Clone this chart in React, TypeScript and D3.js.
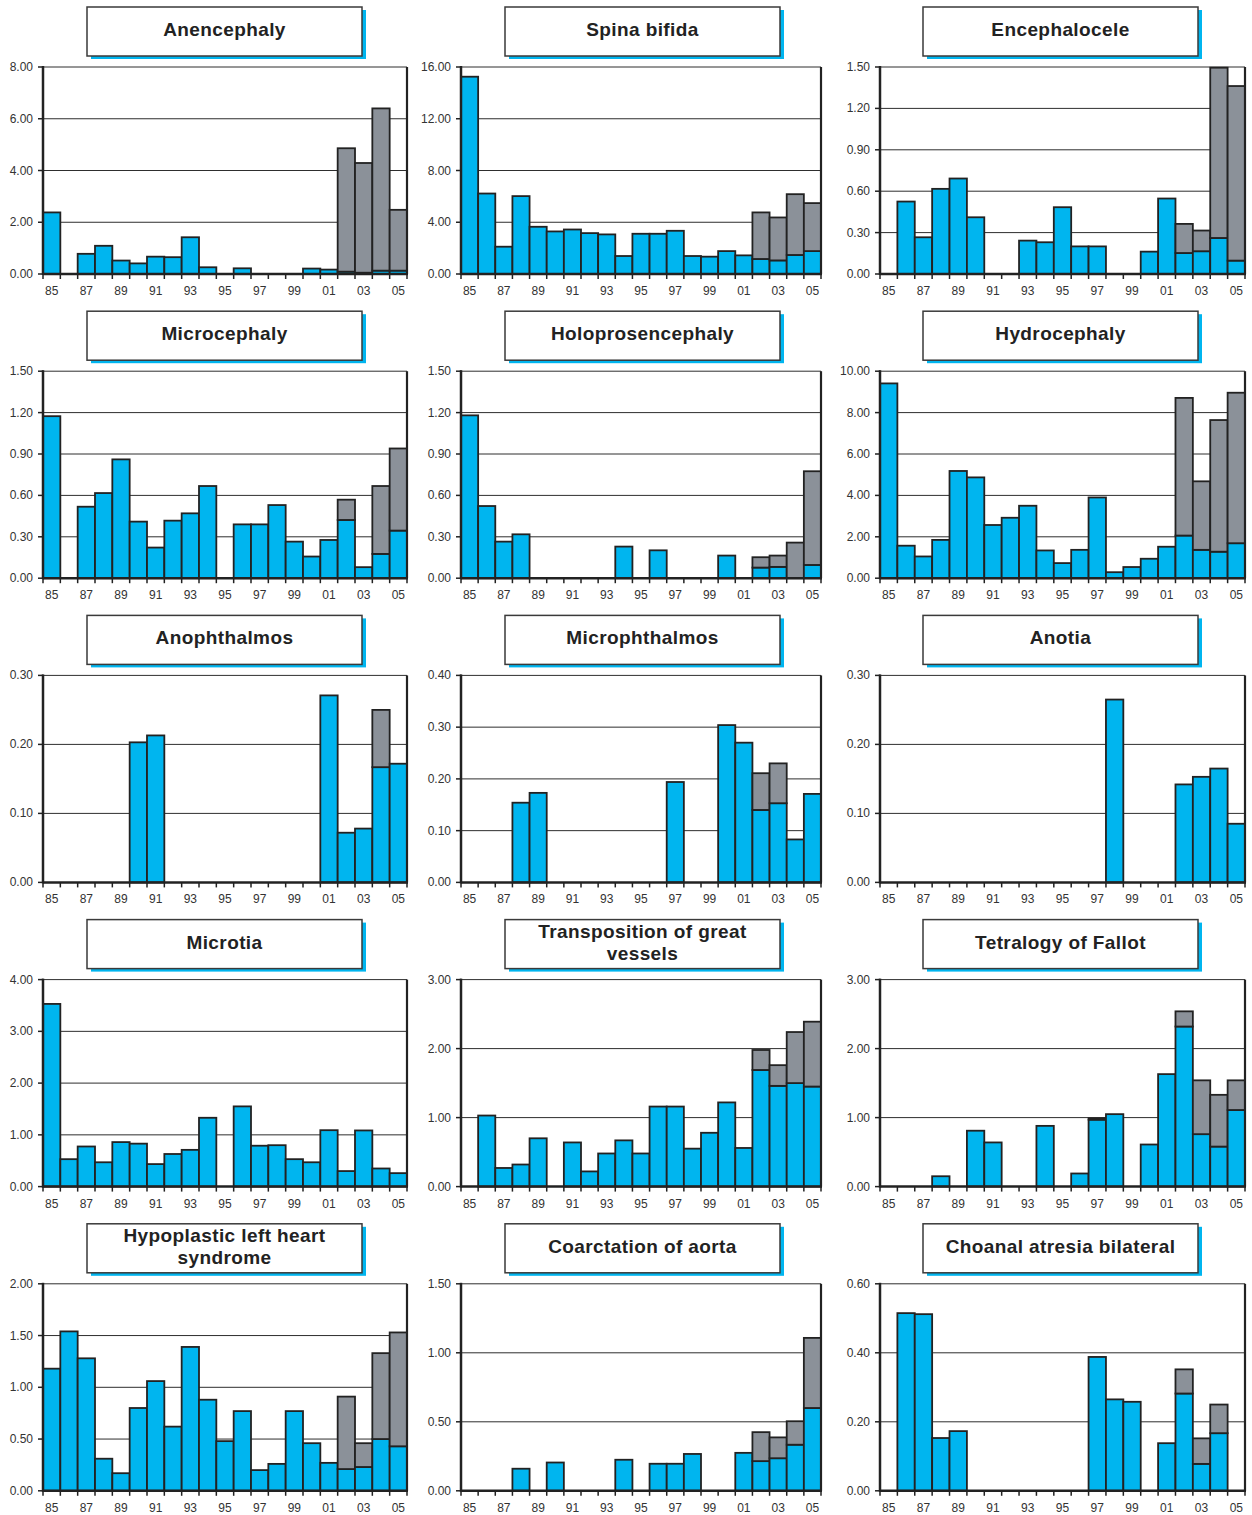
import React from 'react';
import * as d3 from 'd3';

const years = ['85','86','87','88','89','90','91','92','93','94','95','96','97','98','99','00','01','02','03','04','05'];

const titles = [
  'Anencephaly', 'Spina bifida', 'Encephalocele',
  'Microcephaly', 'Holoprosencephaly', 'Hydrocephaly',
  'Anophthalmos', 'Microphthalmos', 'Anotia',
  'Microtia', 'Transposition of great\nvessels', 'Tetralogy of Fallot',
  'Hypoplastic left heart\nsyndrome', 'Coarctation of aorta', 'Choanal atresia bilateral',
];

const yMaxes = [8, 16, 1.5, 1.5, 1.5, 10, 0.3, 0.4, 0.3, 4, 3, 3, 2, 1.5, 0.6];
const ySteps = [2, 4, 0.3, 0.3, 0.3, 2, 0.1, 0.1, 0.1, 1, 1, 1, 0.5, 0.5, 0.2];

const anencephalyBlue = [2.38,0,0.78,1.09,0.52,0.41,0.67,0.65,1.42,0.26,0,0.22,0,0,0,0.21,0.17,0.09,0.05,0.13,0.13];
const anencephalyGray = [0,0,0,0,0,0,0,0,0,0,0,0,0,0,0,0,0,4.77,4.24,6.27,2.35];
const spinaBlue = [15.25,6.22,2.11,6.02,3.65,3.29,3.44,3.16,3.06,1.39,3.11,3.11,3.34,1.39,1.34,1.77,1.44,1.16,1.05,1.47,1.77];
const spinaGray = [0,0,0,0,0,0,0,0,0,0,0,0,0,0,0,0,0,3.6,3.32,4.7,3.71];
const encephaloceleBlue = [0,0.525,0.266,0.617,0.692,0.411,0,0,0.242,0.23,0.484,0.2,0.2,0,0,0.162,0.547,0.152,0.165,0.261,0.097];
const encephaloceleGray = [0,0,0,0,0,0,0,0,0,0,0,0,0,0,0,0,0,0.211,0.15,1.234,1.265];
const microcephalyBlue = [1.174,0,0.518,0.617,0.861,0.41,0.222,0.417,0.47,0.668,0,0.39,0.39,0.53,0.265,0.157,0.277,0.422,0.08,0.176,0.345];
const microcephalyGray = [0,0,0,0,0,0,0,0,0,0,0,0,0,0,0,0,0,0.147,0,0.492,0.595];
const holoBlue = [1.18,0.523,0.265,0.318,0,0,0,0,0,0.229,0,0.202,0,0,0,0.164,0,0.077,0.082,0,0.096];
const holoGray = [0,0,0,0,0,0,0,0,0,0,0,0,0,0,0,0,0,0.075,0.082,0.258,0.679];
const hydroBlue = [9.41,1.57,1.05,1.85,5.18,4.87,2.57,2.92,3.5,1.34,0.73,1.37,3.9,0.29,0.54,0.94,1.52,2.06,1.37,1.28,1.69];
const hydroGray = [0,0,0,0,0,0,0,0,0,0,0,0,0,0,0,0,0,6.65,3.31,6.36,7.27];
const anophthalmosBlue = [0,0,0,0,0,0.203,0.213,0,0,0,0,0,0,0,0,0,0.271,0.072,0.078,0.167,0.172];
const anophthalmosGray = [0,0,0,0,0,0,0,0,0,0,0,0,0,0,0,0,0,0,0,0.083,0];
const microphthalmosBlue = [0,0,0,0.154,0.173,0,0,0,0,0,0,0,0.194,0,0,0.304,0.27,0.14,0.153,0.083,0.171];
const microphthalmosGray = [0,0,0,0,0,0,0,0,0,0,0,0,0,0,0,0,0,0.071,0.077,0,0];
const anotiaBlue = [0,0,0,0,0,0,0,0,0,0,0,0,0,0.265,0,0,0,0.142,0.153,0.165,0.085];
const anotiaGray = [0,0,0,0,0,0,0,0,0,0,0,0,0,0,0,0,0,0,0,0,0];
const microtiaBlue = [3.53,0.53,0.775,0.47,0.86,0.83,0.435,0.63,0.71,1.33,0,1.55,0.79,0.8,0.53,0.47,1.09,0.3,1.085,0.35,0.26];
const microtiaGray = [0,0,0,0,0,0,0,0,0,0,0,0,0,0,0,0,0,0,0,0,0];
const tgaBlue = [0,1.03,0.27,0.32,0.7,0,0.64,0.22,0.48,0.67,0.48,1.16,1.16,0.55,0.78,1.22,0.56,1.69,1.46,1.5,1.45];
const tgaGray = [0,0,0,0,0,0,0,0,0,0,0,0,0,0,0,0,0,0.29,0.3,0.74,0.94];
const tofBlue = [0,0,0,0.15,0,0.81,0.64,0,0,0.88,0,0.19,0.97,1.05,0,0.61,1.63,2.32,0.76,0.58,1.11];
const tofGray = [0,0,0,0,0,0,0,0,0,0,0,0,0.02,0,0,0,0,0.22,0.78,0.75,0.43];
const hlhsBlue = [1.18,1.54,1.28,0.31,0.17,0.8,1.06,0.62,1.39,0.88,0.48,0.77,0.2,0.26,0.77,0.46,0.27,0.21,0.23,0.5,0.43];
const hlhsGray = [0,0,0,0,0,0,0,0,0,0,0,0,0,0,0,0,0,0.7,0.23,0.83,1.1];
const coarctBlue = [0,0,0,0.16,0,0.205,0,0,0,0.225,0,0.196,0.196,0.267,0,0,0.275,0.215,0.236,0.334,0.6];
const coarctGray = [0,0,0,0,0,0,0,0,0,0,0,0,0,0,0,0,0,0.21,0.151,0.17,0.508];
const choanalBlue = [0,0.515,0.512,0.153,0.173,0,0,0,0,0,0,0,0.388,0.265,0.258,0,0.138,0.282,0.078,0.167,0];
const choanalGray = [0,0,0,0,0,0,0,0,0,0,0,0,0,0,0,0,0,0.07,0.074,0.083,0];

const blueSeries = [anencephalyBlue, spinaBlue, encephaloceleBlue, microcephalyBlue, holoBlue, hydroBlue,
  anophthalmosBlue, microphthalmosBlue, anotiaBlue, microtiaBlue, tgaBlue, tofBlue, hlhsBlue, coarctBlue, choanalBlue];
const graySeries = [anencephalyGray, spinaGray, encephaloceleGray, microcephalyGray, holoGray, hydroGray,
  anophthalmosGray, microphthalmosGray, anotiaGray, microtiaGray, tgaGray, tofGray, hlhsGray, coarctGray, choanalGray];

const BLUE = '#00b5ef';
const GRAY = '#8b9199';
const DARK = '#222222';
const FONT = '"Liberation Sans", Arial, Helvetica, sans-serif';

const COL_LEFT = [43, 461, 880];
const COL_RIGHT = [407, 821, 1245];
const BOX_X = [87, 505, 923];
const ROW_H = 304.2;

function Panel({ idx }: { idx: number }) {
  const row = Math.floor(idx / 3);
  const col = idx % 3;
  const top0 = row * ROW_H;
  const left = COL_LEFT[col];
  const right = COL_RIGHT[col];
  const plotTop = top0 + 67;
  const plotBottom = top0 + 274;
  const yMax = yMaxes[idx];
  const yStep = ySteps[idx];
  const blue = blueSeries[idx];
  const gray = graySeries[idx];

  const x = d3.scaleBand<string>().domain(years).range([left, right]).padding(0);
  const y = d3.scaleLinear().domain([0, yMax]).range([plotBottom, plotTop]);
  const nTicks = Math.round(yMax / yStep);
  const ticks = d3.range(0, nTicks + 1).map((i) => i * yStep);
  const fmt = d3.format('.2f');
  const lines = titles[idx].split('\n');
  const boxY = top0 + 7;
  const boxX = BOX_X[col];
  const titleProps = {
    textAnchor: 'middle' as const,
    fontFamily: FONT,
    fontWeight: 'bold',
    fontSize: 19,
    letterSpacing: 0.4,
    fill: DARK,
  };

  return (
    <g>
      {/* title box */}
      <rect x={boxX + 4} y={boxY + 3} width={275} height={49} fill={BLUE} />
      <rect x={boxX} y={boxY} width={275} height={49} fill="#fff" stroke="#3a3a3a" strokeWidth={1.5} />
      {lines.length === 1 ? (
        <text x={boxX + 137.5} y={top0 + 36} {...titleProps}>
          {lines[0]}
        </text>
      ) : (
        lines.map((l, i) => (
          <text key={i} x={boxX + 137.5} y={top0 + 25.5 + i * 22} {...titleProps}>
            {l}
          </text>
        ))
      )}

      {/* gridlines */}
      {ticks.filter((t) => t > 0).map((t, i) => (
        <line key={'g' + i} x1={left} x2={right} y1={y(t)} y2={y(t)} stroke="#2e2e2e" strokeWidth={1} />
      ))}

      {/* bars */}
      {years.map((yr, i) => {
        const b = blue[i];
        const g = gray[i];
        const bx = x(yr) as number;
        const bw = x.bandwidth();
        return (
          <g key={yr}>
            {b > 0 && (
              <rect x={bx} y={y(b)} width={bw} height={y(0) - y(b)} fill={BLUE} stroke={DARK} strokeWidth={1.8} />
            )}
            {g > 0 && (
              <rect x={bx} y={y(b + g)} width={bw} height={y(b) - y(b + g)} fill={GRAY} stroke={DARK} strokeWidth={1.8} />
            )}
          </g>
        );
      })}

      {/* axes */}
      <line x1={right} x2={right} y1={plotTop} y2={plotBottom} stroke={DARK} strokeWidth={2.2} />
      <line x1={left} x2={left} y1={plotTop - 1} y2={plotBottom + 1} stroke={DARK} strokeWidth={2.5} />
      <line x1={left} x2={right + 1} y1={plotBottom} y2={plotBottom} stroke={DARK} strokeWidth={2.5} />

      {/* y ticks */}
      {ticks.map((t, i) => (
        <g key={'y' + i}>
          <line x1={left - 5} x2={left} y1={y(t)} y2={y(t)} stroke={DARK} strokeWidth={1.5} />
          <text x={left - 10} y={y(t) + 4} textAnchor="end" fontFamily={FONT} fontSize={12} fill="#333">
            {fmt(t)}
          </text>
        </g>
      ))}

      {/* x ticks */}
      {years.map((yr, i) => (
        <line key={'xt' + i} x1={x(yr) as number} x2={x(yr) as number} y1={plotBottom} y2={plotBottom + 5} stroke={DARK} strokeWidth={1.5} />
      ))}
      <line x1={right} x2={right} y1={plotBottom} y2={plotBottom + 5} stroke={DARK} strokeWidth={1.5} />
      {years.map((yr, i) =>
        i % 2 === 0 ? (
          <text key={'xl' + i} x={(x(yr) as number) + x.bandwidth() / 2} y={plotBottom + 21} textAnchor="middle" fontFamily={FONT} fontSize={12} fill="#333">
            {yr}
          </text>
        ) : null
      )}
    </g>
  );
}

export default function App() {
  return (
    <div style={{ position: 'absolute', left: 0, top: 0 }}>
      <svg width={1252} height={1515} viewBox="0 0 1252 1515" style={{ display: 'block', background: '#fff' }}>
        {titles.map((_, i) => (
          <Panel key={i} idx={i} />
        ))}
      </svg>
    </div>
  );
}
